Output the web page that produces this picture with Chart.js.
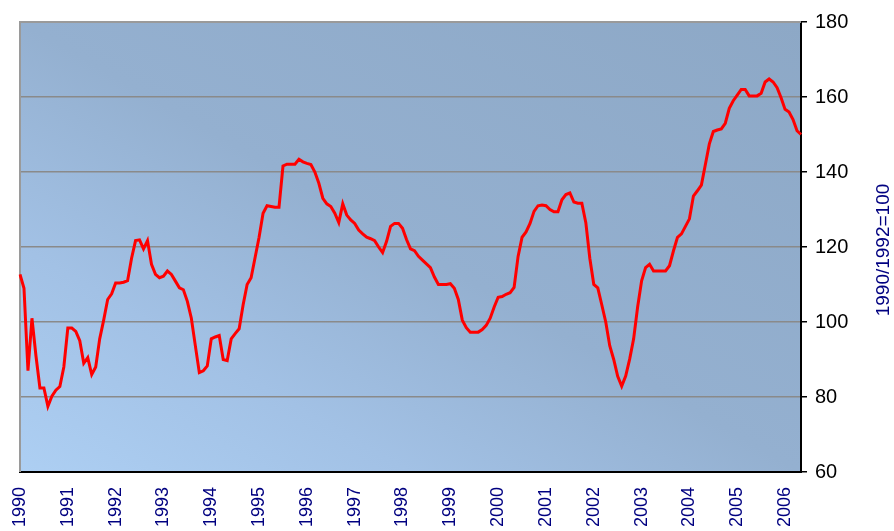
<!DOCTYPE html>
<html>
<head>
<meta charset="utf-8">
<script src="https://cdn.jsdelivr.net/npm/chart.js@4/dist/chart.umd.min.js"></script>
<style>
  html, body { margin: 0; padding: 0; background: #ffffff; }
  #wrap { width: 894px; height: 531px; }
</style>
</head>
<body>
<div id="wrap"><canvas id="chart" width="894" height="531"></canvas></div>
<script>
// monthly index, Jan 1990 .. May 2006
const startYear = 1990;
const values = [
  112.7, 109, 87, 101, 91, 82.4, 82.4, 77.5, 80.2, 81.8, 82.8, 88,          // 1990
  98.4, 98.4, 97.5, 95, 89, 90.5, 86, 88, 95.5, 100.5, 106, 107.5,          // 1991
  110.4, 110.4, 110.6, 111, 117, 121.7, 121.9, 119.5, 121.7, 115.4, 112.7, 111.8, // 1992
  112.2, 113.6, 112.7, 110.9, 109.1, 108.6, 105.5, 101, 93.7, 86.5, 87, 88.3, // 1993
  95.5, 96, 96.4, 90, 89.7, 95.5, 96.9, 98.2, 104.6, 110, 111.8, 117.2,     // 1994
  122.6, 129, 131, 130.8, 130.6, 130.6, 141.6, 142.1, 142.1, 142.1, 143.4, 142.7, // 1995
  142.3, 142, 140, 137, 133, 131.5, 130.8, 129, 126.5, 131.5, 128.5, 127.2, // 1996
  126.3, 124.5, 123.5, 122.6, 122.2, 121.7, 120, 118.5, 121.5, 125.5, 126.3, 126.3, // 1997
  125, 122, 119.5, 119, 117.5, 116.5, 115.5, 114.5, 112, 110, 110, 110,     // 1998
  110.2, 109, 106, 100.5, 98.5, 97.3, 97.3, 97.3, 98, 99.1, 101, 104,       // 1999
  106.6, 106.8, 107.4, 107.8, 109.2, 117.5, 122.6, 124, 126.3, 129.5, 131, 131.2, // 2000
  131, 130, 129.4, 129.4, 132.6, 134, 134.4, 132, 131.7, 131.7, 126.5, 117, // 2001
  110, 109.1, 104.6, 100, 93.7, 90, 85.5, 82.9, 85.6, 90.1, 95.5, 104,      // 2002
  111, 114.5, 115.4, 113.6, 113.6, 113.6, 113.6, 115, 119, 122.6, 123.5, 125.5, // 2003
  127.5, 133.6, 135, 136.5, 142, 147.5, 150.8, 151.2, 151.5, 153, 157, 159, // 2004
  160.5, 162, 162, 160.3, 160.3, 160.3, 161, 164, 164.8, 164, 162.5, 159.8, // 2005
  156.7, 156, 154, 151, 150                                                 // 2006
];
const yTicks = [60, 80, 100, 120, 140, 160, 180];
const axisTitle = '1990/1992=100';

// month labels, only January gets printed
const labels = values.map((v, i) => (startYear + Math.floor(i / 12)) + '-' + (i % 12 + 1));

const backdrop = {
  id: 'backdrop',
  beforeDraw(chart) {
    const { ctx, chartArea: a } = chart;
    ctx.save();
    ctx.translate(a.left, a.top);
    ctx.scale(a.right - a.left, a.bottom - a.top);
    const g = ctx.createLinearGradient(0, 1, 1, 0);
    g.addColorStop(0, '#adcff3');
    g.addColorStop(0.25, '#a2c1e5');
    g.addColorStop(0.5, '#94b0d0');
    g.addColorStop(1, '#8da8c6');
    ctx.fillStyle = g;
    ctx.fillRect(0, 0, 1, 1);
    ctx.restore();
  },
  beforeDatasetsDraw(chart) {
    const { ctx, chartArea: a } = chart;
    ctx.save();
    ctx.strokeStyle = '#9a9a9a';
    ctx.lineWidth = 2;
    ctx.beginPath();
    ctx.moveTo(a.left, a.bottom);
    ctx.lineTo(a.left, a.top);
    ctx.lineTo(a.right, a.top);
    ctx.stroke();
    ctx.restore();
  },
  afterDraw(chart) {
    const ctx = chart.ctx;
    ctx.save();
    ctx.translate(884, 250);
    ctx.rotate(-Math.PI / 2);
    ctx.font = '19px "Liberation Sans", Arial, sans-serif';
    ctx.fillStyle = '#000080';
    ctx.textAlign = 'center';
    ctx.textBaseline = 'middle';
    ctx.fillText(axisTitle, 0, 0);
    ctx.restore();
  }
};

new Chart(document.getElementById('chart'), {
  type: 'line',
  data: {
    labels: labels,
    datasets: [{
      data: values,
      borderColor: '#ff0000',
      borderWidth: 3,
      pointRadius: 0,
      tension: 0,
      fill: false
    }]
  },
  options: {
    responsive: false,
    animation: false,
    layout: { padding: { left: 20, top: 22, right: 0, bottom: 0 } },
    plugins: { legend: { display: false }, tooltip: { enabled: false } },
    scales: {
      x: {
        offset: false,
        grid: { display: false, drawTicks: false },
        border: { display: true, color: '#000000', width: 2 },
        ticks: {
          autoSkip: false,
          minRotation: 90,
          maxRotation: 90,
          padding: 15,
          color: '#000080',
          font: { family: '"Liberation Sans", Arial, sans-serif', size: 18 },
          callback: (v, i) => (i % 12 === 0 ? String(startYear + i / 12) : '')
        },
        afterFit: s => { s.height = 59; }
      },
      y: {
        position: 'right',
        min: 60,
        max: 180,
        afterBuildTicks: s => { s.ticks = yTicks.map(v => ({ value: v })); },
        grid: { color: '#8a8a8a', lineWidth: 1.5, tickLength: 6, tickColor: '#000000', tickWidth: 1.5 },
        border: { display: true, color: '#000000', width: 2 },
        ticks: {
          padding: 8,
          color: '#000000',
          font: { family: '"Liberation Sans", Arial, sans-serif', size: 20 }
        },
        afterFit: s => { s.width = 93; }
      }
    }
  },
  plugins: [backdrop]
});
</script>
</body>
</html>
